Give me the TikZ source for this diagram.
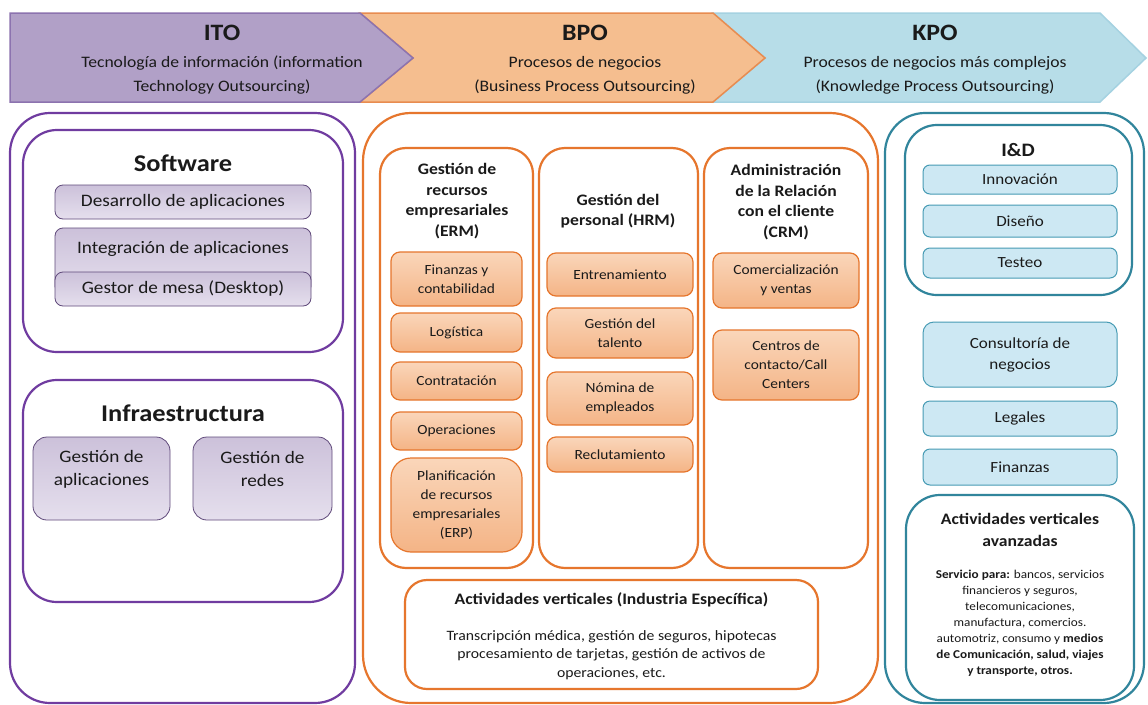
\documentclass[tikz,border=0pt]{standalone}
\usepackage{fontspec}
\setmainfont{Carlito}[FakeStretch=1.1]
\usetikzlibrary{fit}

\definecolor{txtgray}{RGB}{26,26,26}
\definecolor{itoline}{RGB}{112,60,160}
\definecolor{itoedge}{RGB}{96,74,123}
\definecolor{itotop}{RGB}{204,193,218}
\definecolor{itobot}{RGB}{229,223,237}
\definecolor{itohdr}{RGB}{177,160,199}
\definecolor{itohdredge}{RGB}{140,115,175}
\definecolor{bpoline}{RGB}{230,118,45}
\definecolor{bpotop}{RGB}{250,214,186}
\definecolor{bpobot}{RGB}{244,180,134}
\definecolor{bpohdr}{RGB}{245,190,143}
\definecolor{bpohdredge}{RGB}{232,140,80}
\definecolor{kpoline}{RGB}{49,133,156}
\definecolor{kpoedge}{RGB}{70,155,180}
\definecolor{kpofill}{RGB}{205,232,243}
\definecolor{kpohdr}{RGB}{183,221,232}
\definecolor{kpohdredge}{RGB}{165,210,225}

\begin{document}
\begin{tikzpicture}[x=1pt,y=-1pt,
        every node/.style={text=txtgray},
        itocont/.style={draw=itoline, line width=2.2pt, inner sep=0pt},
        bpocont/.style={draw=bpoline, line width=2.2pt, inner sep=0pt},
        kpocont/.style={draw=kpoline, line width=2.2pt, inner sep=0pt},
        size/.style args={#1x#2}{minimum width=#1pt, minimum height=#2pt},
        purpleitem/.style={draw=itoedge, line width=0.8pt, rounded corners=8pt,
            top color=itotop, bottom color=itobot, inner sep=0pt, align=center,
            font=\fontsize{17.5}{22}\selectfont},
        orangeitem/.style={draw=bpoline, line width=1.2pt, rounded corners=9pt,
            top color=bpotop, bottom color=bpobot, inner sep=0pt, align=center,
            font=\fontsize{14}{19}\selectfont},
        blueitem/.style={draw=kpoedge, line width=1pt, rounded corners=7pt,
            fill=kpofill, inner sep=0pt, align=center,
            font=\fontsize{15.5}{21}\selectfont},
        itemtext/.style={align=center, font=\fontsize{17.5}{23}\selectfont},
        hdrtitle/.style={font=\fontsize{23.5}{26}\selectfont\bfseries},
        hdrsub/.style={align=center, font=\fontsize{16}{24}\selectfont},
        secttitle/.style={font=\fontsize{24}{26}\selectfont\bfseries},
        coltitle/.style={align=center, font=\fontsize{16}{20.5}\selectfont\bfseries},
        verttitle/.style={font=\fontsize{16}{18}\selectfont\bfseries},
        verttext/.style={align=center, font=\fontsize{14.3}{18.5}\selectfont},
        idtitle/.style={font=\fontsize{19}{20}\selectfont\bfseries},
        advtitle/.style={align=center, font=\fontsize{16}{22}\selectfont\bfseries},
        advtext/.style={align=center, font=\fontsize{12}{16}\selectfont}
    ]
    \path[use as bounding box, fill=white] (0,0) rectangle (1148,704);

    % header
    \filldraw[fill=kpohdr, draw=kpohdredge, line width=1.5pt]
        (713,13) -- (1100,13) -- (1146,58) -- (1100,102) -- (713,102) -- (765,58) -- cycle;
    \filldraw[fill=bpohdr, draw=bpohdredge, line width=1.5pt]
        (360,13) -- (713,13) -- (765,58) -- (713,102) -- (360,102) -- (413,58) -- cycle;
    \filldraw[fill=itohdr, draw=itohdredge, line width=1.5pt]
        (10,13) -- (360,13) -- (413,58) -- (360,102) -- (10,102) -- cycle;

    \node[hdrtitle] (ito) at (222,33) {ITO};
    \node[hdrsub] (itotxt) at (222,75) {Tecnología de información (information\\Technology Outsourcing)};
    \node[hdrtitle] (bpo) at (585,33) {BPO};
    \node[hdrsub] (bpotxt) at (585,75) {Procesos de negocios\\(Business Process Outsourcing)};
    \node[hdrtitle] (kpo) at (935,33) {KPO};
    \node[hdrsub] (kpotxt) at (935,75) {Procesos de negocios más complejos\\(Knowledge Process Outsourcing)};

    % ITO
    \node[itocont, rounded corners=40pt, fit={(10,113)(355,703)}] (itobox) {};
    \node[itocont, rounded corners=34pt, fit={(23,130)(343,352)}] (swbox) {};
    \node[secttitle] (swtitle) at (183,163) {Software};
    \node[purpleitem, size=256x34] (dev) at (183,202) {Desarrollo de aplicaciones};
    \node[purpleitem, fit={(55,228)(311,294)}] (integ) {};
    \node[itemtext] (integtxt) at (183,249) {Integración de aplicaciones};
    \node[purpleitem, size=256x34] (desk) at (183,289) {Gestor de mesa (Desktop)};
    \node[itocont, rounded corners=34pt, fit={(23,380)(343,602)}] (infrabox) {};
    \node[secttitle] (infratitle) at (183,413) {Infraestructura};
    \node[purpleitem, rounded corners=14pt, fit={(33,437)(170,520)}] (appmgmt) {};
    \node[itemtext] (appmgmttxt) at ([yshift=-32.5pt]appmgmt.north) {Gestión de\\aplicaciones};
    \node[purpleitem, rounded corners=14pt, fit={(193,437)(332,520)}] (netmgmt) {};
    \node[itemtext] (netmgmttxt) at ([yshift=-32.5pt]netmgmt.north) {Gestión de\\redes};

    % BPO
    \node[bpocont, rounded corners=48pt, fit={(363,113)(878,703)}] (bpobox) {};
    \node[bpocont, rounded corners=26pt, fit={(380,148)(533,568)}] (erm) {};
    \node[coltitle] (ermtitle) at (457,201) {Gestión de\\recursos\\empresariales\\(ERM)};
    \node[orangeitem, size=131x54] (fin) at (456.5,279) {Finanzas y\\contabilidad};
    \node[orangeitem, size=131x39] (logist) at (456.5,332.5) {Logística};
    \node[orangeitem, size=131x38] (contr) at (456.5,381) {Contratación};
    \node[orangeitem, size=131x38] (oper) at (456.5,431) {Operaciones};
    \node[orangeitem, size=131x94, rounded corners=20pt] (erp) at (456.5,505) {Planificación\\de recursos\\empresariales\\(ERP)};
    \node[bpocont, rounded corners=26pt, fit={(539,148)(698,568)}] (hrm) {};
    \node[coltitle] (hrmtitle) at (618,211) {Gestión del\\personal (HRM)};
    \node[orangeitem, size=146x43] (train) at (620,274.5) {Entrenamiento};
    \node[orangeitem, size=146x50] (talent) at (620,333) {Gestión del\\talento};
    \node[orangeitem, size=146x53] (payroll) at (620,398.5) {Nómina de\\empleados};
    \node[orangeitem, size=146x35] (recruit) at (620,454.5) {Reclutamiento};
    \node[bpocont, rounded corners=26pt, fit={(704,148)(868,568)}] (crm) {};
    \node[coltitle] (crmtitle) at (786,202) {Administración\\de la Relación\\con el cliente\\(CRM)};
    \node[orangeitem, size=146x55] (sales) at (786,280.5) {Comercialización\\y ventas};
    \node[orangeitem, size=146x70] (callc) at (786,365) {Centros de\\contacto/Call\\Centers};
    \node[bpocont, rounded corners=22pt, fit={(405,580)(818,689)}] (vert) {};
    \node[verttitle] (verttitle) at (611.5,600) {Actividades verticales (Industria Específica)};
    \node[verttext] (verttxt) at (611.5,655) {Transcripción médica, gestión de seguros, hipotecas\\procesamiento de tarjetas, gestión de activos de\\operaciones, etc.};

    % KPO
    \node[kpocont, rounded corners=40pt, fit={(885,113)(1144,703)}] (kpobox) {};
    \node[kpocont, rounded corners=32pt, fit={(905,125)(1132,295)}] (idbox) {};
    \node[idtitle] (idtitle) at (1018,150) {I\&D};
    \node[blueitem, size=194x29] (innov) at (1020,179.5) {Innovación};
    \node[blueitem, size=194x32] (design) at (1020,221) {Diseño};
    \node[blueitem, size=194x30] (test) at (1020,263) {Testeo};
    \node[blueitem, size=194x65, rounded corners=11pt] (consult) at (1020,354.5) {Consultoría de\\negocios};
    \node[blueitem, size=194x35] (legal) at (1020,418.5) {Legales};
    \node[blueitem, size=194x36] (finz) at (1020,467) {Finanzas};
    \node[kpocont, rounded corners=34pt, fit={(906,495)(1134,700)}] (adv) {};
    \node[advtitle] (advtitle) at (1020,530) {Actividades verticales\\avanzadas};
    \node[advtext] (advtxt) at (1020,623) {\textbf{Servicio para:} bancos, servicios\\financieros y seguros,\\telecomunicaciones,\\manufactura, comercios.\\automotriz, consumo y \textbf{medios}\\\textbf{de Comunicación, salud, viajes}\\\textbf{y transporte, otros.}};
\end{tikzpicture}
\end{document}
